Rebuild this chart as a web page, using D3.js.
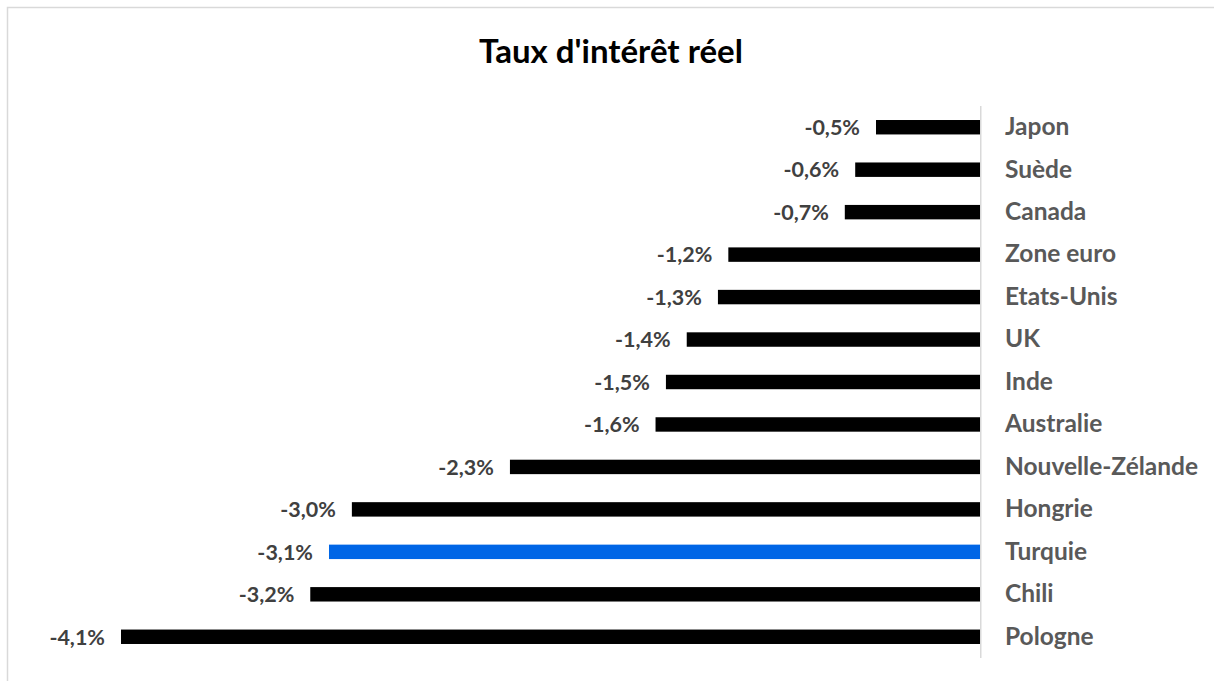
<!DOCTYPE html>
<html><head><meta charset="utf-8">
<script src="https://cdn.jsdelivr.net/npm/d3@7"></script>
<style>html,body{margin:0;padding:0;background:#fff;}svg{display:block;}</style>
</head><body>
<svg id="chart" width="1214" height="681"></svg>
<script>
const categories = ["Japon","Suède","Canada","Zone euro","Etats-Unis","UK","Inde","Australie","Nouvelle-Zélande","Hongrie","Turquie","Chili","Pologne"];
const values = [-0.50,-0.60,-0.65,-1.21,-1.26,-1.41,-1.51,-1.56,-2.26,-3.02,-3.13,-3.22,-4.13];
const valueLabels = ["-0,5%","-0,6%","-0,7%","-1,2%","-1,3%","-1,4%","-1,5%","-1,6%","-2,3%","-3,0%","-3,1%","-3,2%","-4,1%"];
const highlight = ["Turquie"];
const title = "Taux d'intérêt réel";

const svg = d3.select("#chart");
const font = "Lato, 'Open Sans', sans-serif";

svg.append("rect").attr("x",7.5).attr("y",7.5).attr("width",1300).attr("height",800)
  .attr("fill","none").attr("stroke","#d9d9d9").attr("stroke-width",1.5);

svg.append("text").attr("x",611).attr("y",63).attr("text-anchor","middle")
  .attr("font-family",font).attr("font-weight","bold").attr("font-size",33).attr("fill","#000")
  .text(title);

const x = d3.scaleLinear().domain([d3.min(values),0]).range([121,980]);
const y = d3.scaleBand().domain(categories).range([106,658]).paddingInner(0.66).paddingOuter(0.33);

const data = categories.map((c,i)=>({c, v: values[i], l: valueLabels[i]}));

svg.selectAll("rect.bar").data(data).enter().append("rect").attr("class","bar")
  .attr("x",d=>x(d.v)).attr("y",d=>y(d.c)).attr("width",d=>x(0)-x(d.v)).attr("height",y.bandwidth())
  .attr("fill",d=>highlight.includes(d.c)?"#0066e6":"#000");

svg.append("line").attr("x1",x(0)+0.75).attr("x2",x(0)+0.75).attr("y1",106).attr("y2",658)
  .attr("stroke","#d9d9d9").attr("stroke-width",1.5);

svg.selectAll("text.val").data(data).enter().append("text").attr("class","val")
  .attr("x",d=>x(d.v)-16).attr("y",d=>y(d.c)+y.bandwidth()/2).attr("dy","0.36em")
  .attr("text-anchor","end").attr("font-family",font).attr("font-weight","bold").attr("font-size",21.5)
  .attr("fill","#404040").text(d=>d.l);

const axis = d3.axisRight(y).tickSize(0).tickPadding(25);
const g = svg.append("g").attr("transform",`translate(${x(0)},0)`).call(axis);
g.select(".domain").remove();
g.selectAll("text").attr("font-family",font).attr("font-weight","bold").attr("font-size",24.5).attr("fill","#595959");
</script>
</body></html>
